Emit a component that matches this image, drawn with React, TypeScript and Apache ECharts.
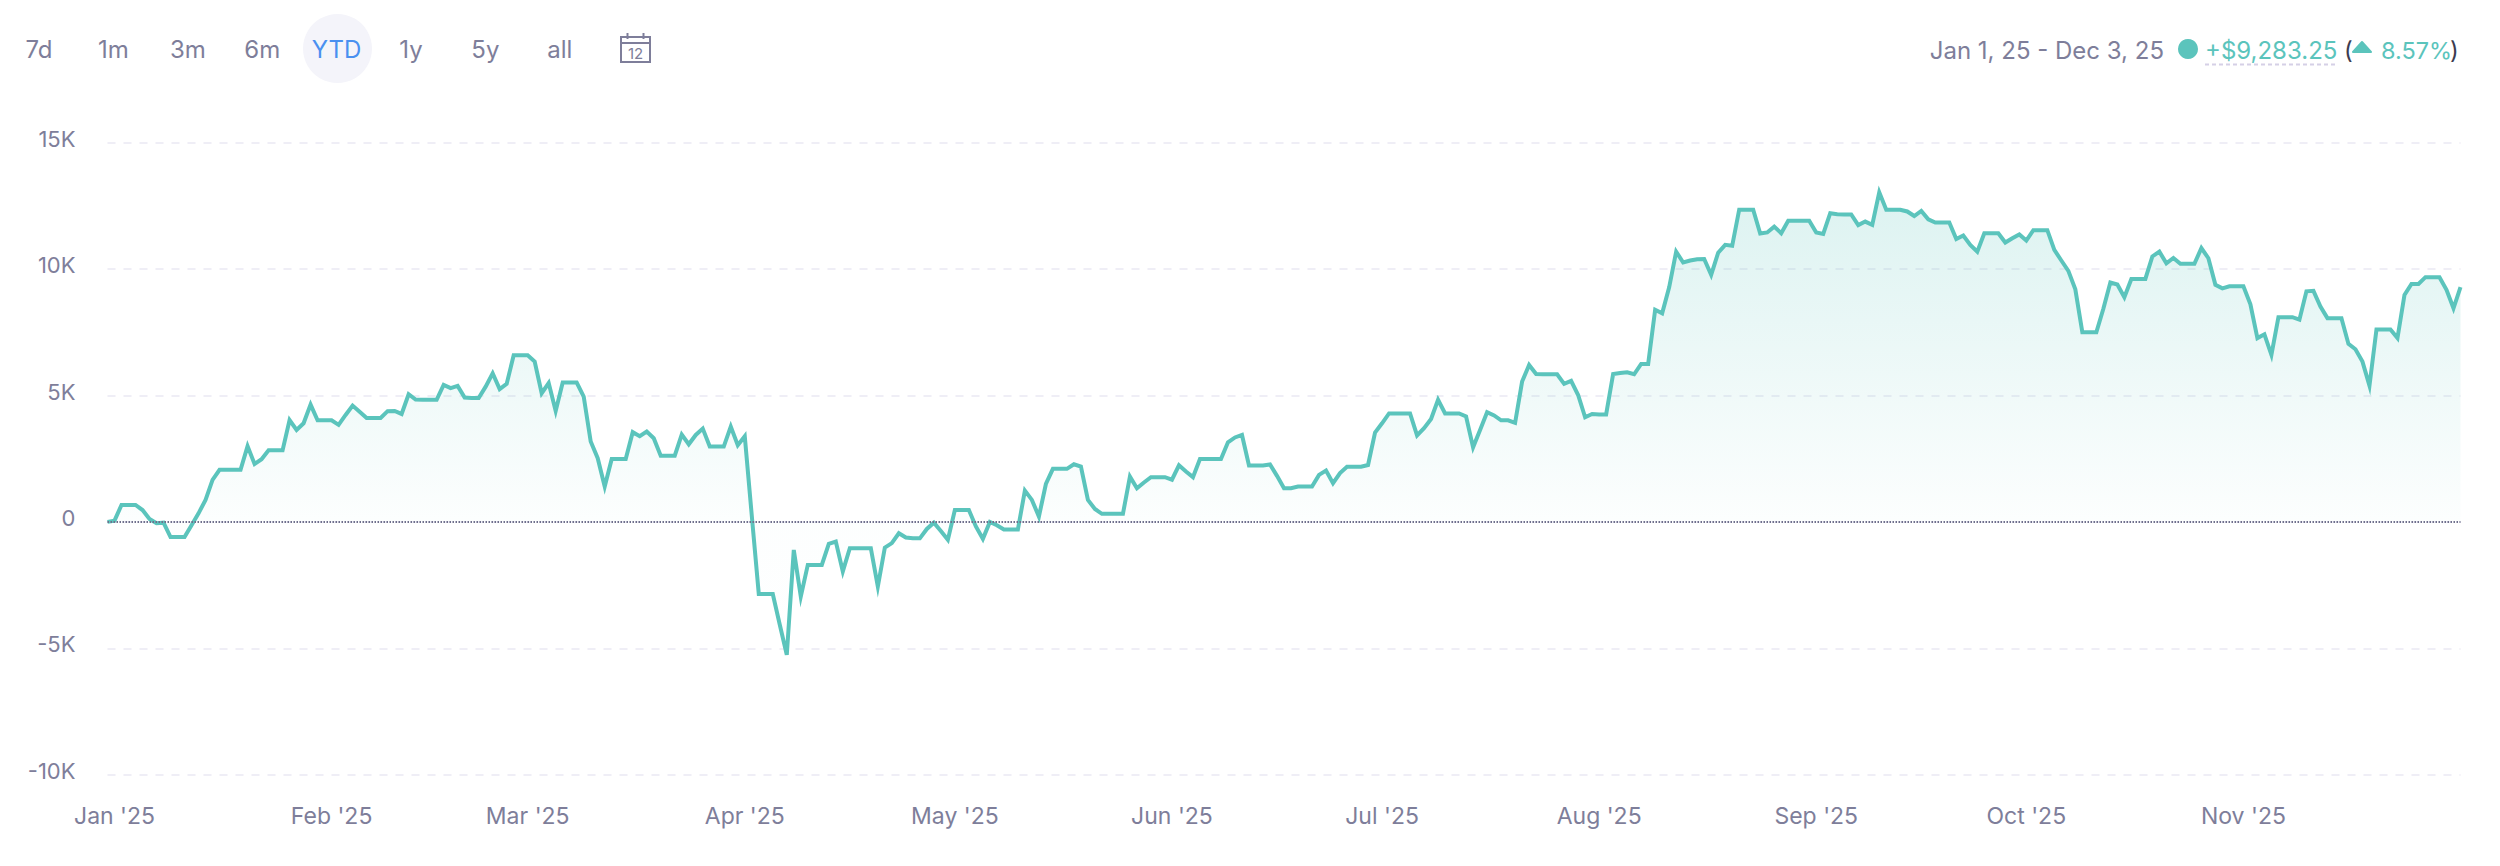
import React, { useEffect, useRef } from "react";
import * as echarts from "echarts";

// Daily value, in thousands of dollars
const jan = [0,0.05,0.67,0.67,0.67,0.47,0.12,-0.05,-0.03,-0.6,-0.6,-0.6,-0.13,0.34,0.87,1.66,2.06,2.06,2.06,2.06,3.0,2.29,2.48,2.83,2.83,2.83,4.03,3.64,3.9,4.64,4.02];
const feb = [4.02,4.02,3.84,4.23,4.6,4.36,4.11,4.11,4.11,4.38,4.39,4.27,5.05,4.84,4.83,4.83,4.83,5.42,5.29,5.38,4.92,4.9,4.9,5.35,5.88,5.25,5.46,6.59];
const mar = [6.59,6.59,6.34,5.09,5.49,4.39,5.51,5.51,5.51,4.96,3.18,2.52,1.4,2.49,2.49,2.49,3.55,3.39,3.57,3.31,2.62,2.62,2.62,3.45,3.07,3.44,3.69,2.98,2.98,2.98,3.77];
const apr = [3.03,3.39,0.25,-2.85,-2.85,-2.85,-4.07,-5.26,-1.11,-2.95,-1.7,-1.7,-1.7,-0.87,-0.78,-1.96,-1.04,-1.04,-1.04,-1.04,-2.56,-1.02,-0.84,-0.45,-0.62,-0.65,-0.65,-0.28,-0.03,-0.36];
const may = [-0.71,0.47,0.47,0.47,-0.18,-0.67,0,-0.13,-0.3,-0.3,-0.3,1.24,0.87,0.21,1.5,2.1,2.1,2.1,2.28,2.19,0.87,0.51,0.32,0.32,0.32,0.32,1.79,1.33,1.56,1.77,1.77];
const jun = [1.77,1.67,2.24,1.99,1.77,2.49,2.49,2.49,2.49,3.15,3.34,3.44,2.23,2.23,2.23,2.27,1.82,1.33,1.33,1.4,1.4,1.4,1.86,2.03,1.53,1.93,2.18,2.18,2.18,2.25];
const jul = [3.53,3.9,4.29,4.29,4.29,4.29,3.42,3.71,4.07,4.83,4.29,4.29,4.29,4.17,2.95,3.64,4.34,4.21,4.02,4.02,3.92,5.55,6.21,5.85,5.84,5.84,5.84,5.46,5.58,5.02,4.14];
const aug = [4.27,4.25,4.25,5.85,5.89,5.92,5.84,6.25,6.25,8.39,8.25,9.28,10.69,10.26,10.34,10.39,10.4,9.77,10.65,10.96,10.92,12.35,12.35,12.35,11.41,11.45,11.68,11.42,11.91,11.91,11.91];
const sep = [11.91,11.45,11.39,12.21,12.17,12.16,12.16,11.74,11.88,11.75,13.04,12.35,12.35,12.35,12.28,12.1,12.3,11.97,11.84,11.84,11.84,11.19,11.33,10.96,10.69,11.42,11.42,11.42,11.05,11.22];
const oct = [11.37,11.13,11.54,11.54,11.54,10.76,10.34,9.93,9.2,7.5,7.5,7.5,8.43,9.47,9.39,8.89,9.61,9.61,9.61,10.5,10.69,10.23,10.44,10.21,10.21,10.21,10.83,10.43,9.38,9.24,9.32];
const nov = [9.32,9.32,8.61,7.27,7.42,6.61,8.1,8.1,8.1,8.0,9.12,9.14,8.52,8.06,8.06,8.06,7.04,6.83,6.34,5.39,7.61,7.61,7.61,7.27,8.98,9.41,9.41,9.68,9.68,9.68];
const dec = [9.18,8.45,9.283];

const monthLabels = ["Jan '25","Feb '25","Mar '25","Apr '25","May '25","Jun '25","Jul '25","Aug '25","Sep '25","Oct '25","Nov '25"];
const monthLabelDates = ["2025-01-02","2025-02-02","2025-03-02","2025-04-02","2025-05-02","2025-06-02","2025-07-02","2025-08-02","2025-09-02","2025-10-02","2025-11-02"];
const rangeButtons = ["7d","1m","3m","6m","YTD","1y","5y","all"];
const activeRange = "YTD";
const dateRange = "Jan 1, 25 - Dec 3, 25";
const gainText = "+$9,283.25";
const gainPercent = "8.57%";

const values = [...jan,...feb,...mar,...apr,...may,...jun,...jul,...aug,...sep,...oct,...nov,...dec];
const days = values.map((_, i) => new Date(Date.UTC(2025, 0, 1 + i)).toISOString().slice(0, 10));

const TEAL = "#5BC4BC";
const MUTED = "#7E7E9A";
const FONT = "Inter, sans-serif";

function label(text: string, x: number, y: number, fill: string, align = "center", size = 24) {
  return {
    type: "text", x, y, silent: true,
    style: { text, fill, font: `${size}px ${FONT}`, textAlign: align, textVerticalAlign: "middle" },
  };
}

export default function App() {
  const ref = useRef<HTMLDivElement>(null);
  useEffect(() => {
    const chart = echarts.init(ref.current!, undefined, { renderer: "svg" });
    const buttons = rangeButtons.map((t, i) =>
      label(t, 39 + i * 74.4, 49.5, t === activeRange ? "#4A90F0" : MUTED));
    chart.setOption({
      animation: false,
      backgroundColor: "#fff",
      grid: { left: 107.5, right: 39.5, top: 142.7, bottom: 91.3, containLabel: false },
      xAxis: {
        type: "category",
        data: days,
        boundaryGap: false,
        axisLine: { show: false },
        axisTick: { show: false },
        splitLine: { show: false },
        axisLabel: {
          color: MUTED, fontFamily: FONT, fontSize: 23, margin: 29.5,
          hideOverlap: false,
          interval: (_: number, v: string) => monthLabelDates.includes(v),
          formatter: (v: string) => monthLabels[monthLabelDates.indexOf(v)] ?? "",
        },
      },
      yAxis: {
        type: "value",
        min: -10, max: 15, interval: 5,
        axisLine: { show: false },
        axisTick: { show: false },
        axisLabel: {
          color: MUTED, fontFamily: FONT, fontSize: 22, margin: 32,
          verticalAlign: "bottom", lineHeight: 8,
          formatter: (v: number) => (v === 0 ? "0" : `${v}K`),
        },
        splitLine: { show: true, lineStyle: { color: "#EFEEF6", width: 2, type: [8, 8] } },
      },
      series: [{
        type: "line",
        data: values,
        showSymbol: false,
        symbol: "none",
        smooth: false,
        lineStyle: { color: TEAL, width: 4, join: "miter", miterLimit: 6 },
        areaStyle: {
          color: new echarts.graphic.LinearGradient(0, 0, 0, 1, [
            { offset: 0, color: "rgba(91,196,188,0.3)" },
            { offset: 0.72, color: "rgba(91,196,188,0.02)" },
            { offset: 1, color: "rgba(91,196,188,0.005)" },
          ]),
        },
        markLine: {
          silent: true, symbol: "none", label: { show: false },
          lineStyle: { color: "#6F6F8C", width: 2, type: [1.5, 1.5] },
          data: [{ yAxis: 0 }],
        },
      }],
      graphic: [
        { type: "circle", shape: { cx: 337.5, cy: 48.5, r: 34.5 }, style: { fill: "#F4F4FA" }, silent: true, z: -1 },
        ...buttons,
        // calendar icon
        { type: "rect", shape: { x: 621, y: 37, width: 29, height: 25 }, style: { fill: "none", stroke: MUTED, lineWidth: 2 }, silent: true },
        { type: "line", shape: { x1: 621, y1: 43, x2: 650, y2: 43 }, style: { stroke: MUTED, lineWidth: 2 }, silent: true },
        { type: "line", shape: { x1: 627.5, y1: 33, x2: 627.5, y2: 39 }, style: { stroke: MUTED, lineWidth: 2 }, silent: true },
        { type: "line", shape: { x1: 643.5, y1: 33, x2: 643.5, y2: 39 }, style: { stroke: MUTED, lineWidth: 2 }, silent: true },
        label("12", 635.5, 53, MUTED, "center", 15),
        // right summary
        label(dateRange, 2164, 50.5, MUTED, "right"),
        { type: "circle", shape: { cx: 2188, cy: 49, r: 10 }, style: { fill: TEAL }, silent: true },
        label(gainText, 2205, 50.5, TEAL, "left"),
        { type: "line", shape: { x1: 2205, y1: 64.5, x2: 2335, y2: 64.5 }, style: { stroke: "#D5D0E6", lineWidth: 2, lineDash: [4, 3] }, silent: true },
        label("(", 2344, 50.5, "#3C3C50", "left"),
        { type: "polygon", shape: { points: [[2362, 42], [2371, 52], [2353, 52]] }, style: { fill: TEAL, stroke: TEAL, lineWidth: 2, lineJoin: "round" }, silent: true },
        label(gainPercent, 2381, 50.5, TEAL, "left", 23.5),
        label(")", 2450, 50.5, "#3C3C50", "left"),
      ],
    });
    return () => chart.dispose();
  }, []);
  return <div ref={ref} style={{ position: "fixed", left: 0, top: 0, width: 2500, height: 866, background: "#fff" }} />;
}
